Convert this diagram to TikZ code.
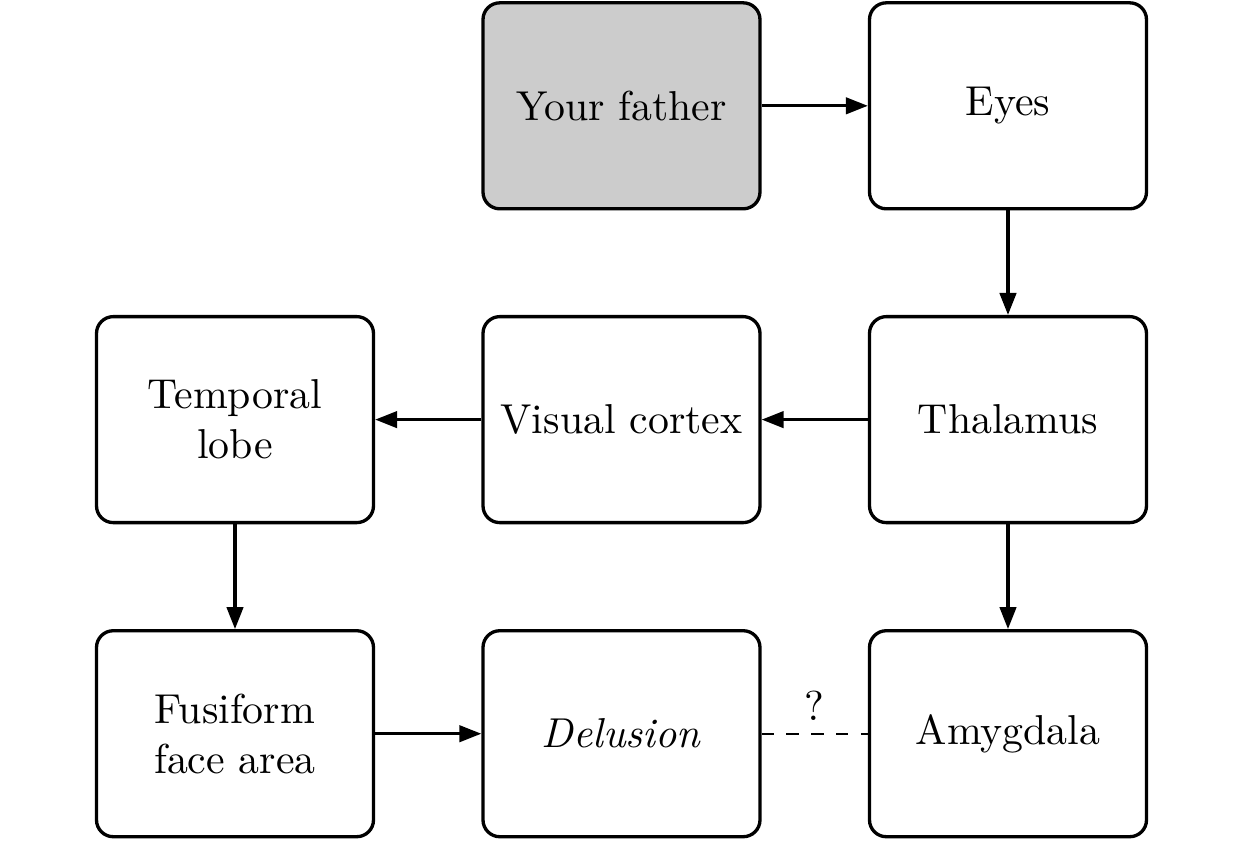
\documentclass[tikz,border=0pt]{standalone}
\usetikzlibrary{arrows.meta}
\begin{document}
\begin{tikzpicture}[x=0.25pt,y=-0.25pt,
  blk/.style={draw, line width=0.83pt, rounded corners=4.2pt, minimum width=69.25pt, minimum height=51.5pt, align=center, inner sep=0pt, font=\fontsize{10.45pt}{12.5pt}\selectfont},
  arr/.style={line width=0.8pt, -{Triangle[length=5.5pt,width=4.1pt]}},
  dsh/.style={line width=0.45pt, dash pattern=on 3.1pt off 3.1pt}]
\useasboundingbox (0,0) rectangle (1245,840);
\node[blk, fill=black!20] (father) at (621.5,105.8) {Your father};
\node[blk] (eyes) at (1008,105.8) {Eyes};
\node[blk] (temporal) at (235,419.6) {Temporal\\lobe};
\node[blk] (visual) at (621.5,419.6) {Visual cortex};
\node[blk] (thalamus) at (1008,419.6) {Thalamus};
\node[blk] (fusiform) at (235,733.7) {Fusiform\\face area};
\node[blk] (delusion) at (621.5,733.7) {\textit{Delusion}};
\node[blk] (amygdala) at (1008,733.7) {Amygdala};
\draw[arr] (father) -- (eyes);
\draw[arr] (eyes) -- (thalamus);
\draw[arr] (thalamus) -- (visual);
\draw[arr] (visual) -- (temporal);
\draw[arr] (temporal) -- (fusiform);
\draw[arr] (fusiform) -- (delusion);
\draw[arr] (thalamus) -- (amygdala);
\draw[dsh] (delusion) -- node[above, inner sep=3pt, font=\fontsize{10.45pt}{12.5pt}\selectfont] (q) {?} (amygdala);
\end{tikzpicture}
\end{document}
